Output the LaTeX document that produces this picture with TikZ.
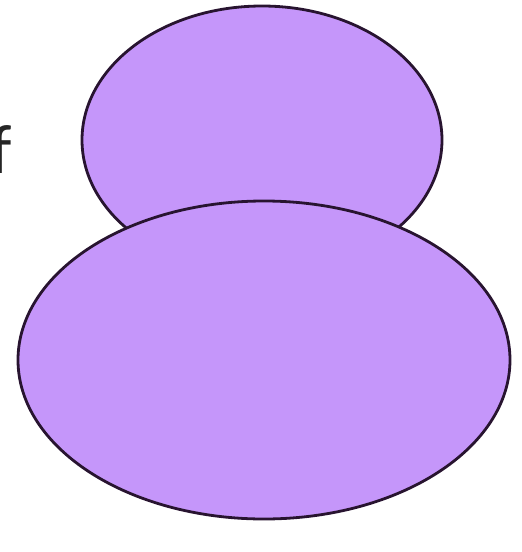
\documentclass[tikz,border=0pt]{standalone}
\usepackage{fontspec}
\setmainfont{Carlito}
\usetikzlibrary{shapes.geometric}
\definecolor{lilac}{RGB}{197,150,250}
\definecolor{edgeplum}{RGB}{40,20,48}

\begin{document}
\begin{tikzpicture}[
  x=1pt, y=-1pt,
  blob/.style={ellipse, draw=edgeplum, line width=2.8pt, fill=lilac, inner sep=0pt},
  label/.style={font=\fontsize{70}{70}\selectfont, inner sep=0pt, text=black!85},
]
\useasboundingbox (0,0) rectangle (522,552);

\node[blob, minimum width=360, minimum height=268] (head) at (262,140) {};
\node[blob, minimum width=492, minimum height=318] (body) at (264,360) {};

% cut-off letter at the left edge
\node[label, anchor=base west] (cut) at (-10,173) {f};
\end{tikzpicture}
\end{document}
